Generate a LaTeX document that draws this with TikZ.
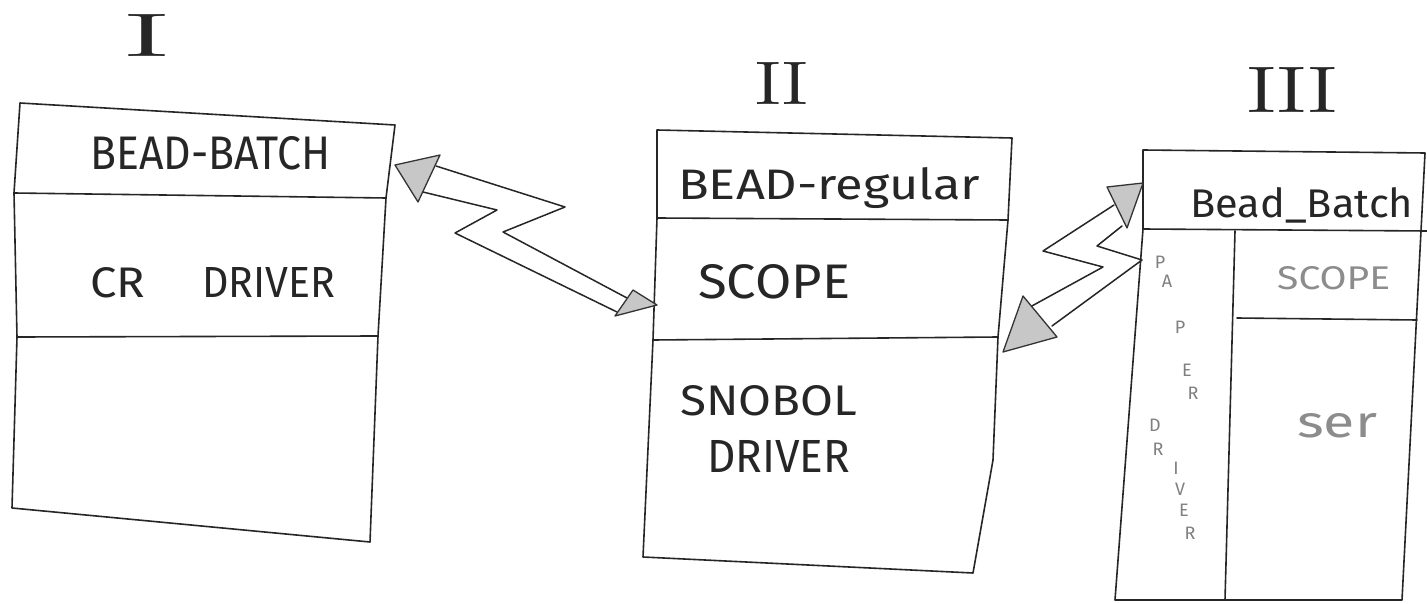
\documentclass[tikz,border=0pt]{standalone}
\usepackage{fontspec}
\usepackage{graphicx}
\newfontfamily\hand{Fira Sans}
\newcommand\handfit[3]{\resizebox{#1pt}{#2pt}{\hand #3}}
\newcommand\romfit[3]{\resizebox{#1pt}{#2pt}{\rmfamily #3}}
\tikzset{
  pen/.style={line width=1.6pt, draw=black!85, line join=round, line cap=round},
  lbl/.style={inner sep=0pt, anchor=base west, text=black!85},
  pale/.style={inner sep=0pt, anchor=base west, text=black!45},
  faint/.style={inner sep=0pt, text=black!50, font=\hand\fontsize{18}{18}\selectfont},
  head/.style={line width=1.3pt, draw=black!80, line join=round, fill=black!22},
  bolt/.style={pen, line width=1.5pt},
}
\begin{document}
\begin{tikzpicture}[x=1pt,y=-1pt]
\useasboundingbox (0,0) rectangle (1427,604);
\fill[white] (0,0) rectangle (1427,604);

% ---------- Box I ----------
\coordinate (a1) at (20,103);  \coordinate (a2) at (395,125);
\coordinate (a3) at (14,193);  \coordinate (a4) at (386,198);
\coordinate (a5) at (17,337);  \coordinate (a6) at (378,336);
\coordinate (a7) at (12,508);  \coordinate (a8) at (370,542);
\draw[pen] (a1) -- (a2) -- (a4) -- (a6) -- (a8) -- (a7) -- (a5) -- (a3) -- cycle;
\draw[pen] (a3) -- (a4);
\draw[pen] (a5) -- (a6);

% ---------- Box II ----------
\coordinate (b1) at (657,130);  \coordinate (b2) at (1012,138);
\coordinate (b3) at (657,218);  \coordinate (b4) at (1008,220);
\coordinate (b5) at (653,340);  \coordinate (b6) at (998,337);
\coordinate (b7) at (643,557);  \coordinate (b8) at (973,573);
\draw[pen] (b1) -- (b2) -- (b4) -- (b6) -- (993,460) -- (b8) -- (b7) -- (b5) -- (b3) -- cycle;
\draw[pen] (b3) -- (b4);
\draw[pen] (b5) -- (b6);

% ---------- Box III ----------
\coordinate (c1) at (1143,150); \coordinate (c2) at (1425,153);
\coordinate (c3) at (1143,229); \coordinate (c4) at (1427,231);
\coordinate (c5) at (1115,600); \coordinate (c6) at (1402,600);
\coordinate (c7) at (1235,231); \coordinate (c8) at (1225,600);
\coordinate (c9) at (1237,318); \coordinate (c10) at (1417,320);
\draw[pen] (c1) -- (c2) -- (1421,231) -- (c6) -- (c5) -- (c3) -- cycle;
\draw[pen] (c3) -- (c4);
\draw[pen] (c7) -- (c8);
\draw[pen] (c9) -- (c10);

% ---------- titles ----------
\node[lbl] (tI)   at (125,57)  {\romfit{43}{42}{I}};
\node[lbl] (tII)  at (755,105) {\romfit{53}{42}{II}};
\node[lbl] (tIII) at (1247,113) {\romfit{90}{45}{III}};

% ---------- labels ----------
\node[lbl] (bb1) at (90,170)   {\handfit{240}{33}{BEAD-BATCH}};
\node[lbl] (cr)  at (90,297)   {\handfit{55}{30}{CR}};
\node[lbl] (drv1) at (202,297) {\handfit{133}{30}{DRIVER}};
\node[lbl] (br)  at (678,200)  {\handfit{302}{32}{BEAD-regular}};
\node[lbl] (sc2) at (698,298)  {\handfit{152}{34}{SCOPE}};
\node[lbl] (sn)  at (680,415)  {\handfit{177}{30}{SNOBOL}};
\node[lbl] (drv2) at (707,472) {\handfit{143}{32}{DRIVER}};
\node[lbl] (bb3) at (1190,218) {\handfit{223}{30}{Bead\_Batch}};
\node[pale] (sc3) at (1277,290) {\handfit{113}{23}{SCOPE}};
\node[pale] (ser) at (1297,437) {\handfit{80}{24}{ser}};

% vertical letters
\node[faint] (v1)  at (1160,262) {P};
\node[faint] (v2)  at (1167,281) {A};
\node[faint] (v3)  at (1180,327) {P};
\node[faint] (v4)  at (1187,370) {E};
\node[faint] (v5)  at (1193,393) {R};
\node[faint] (v6)  at (1155,425) {D};
\node[faint] (v7)  at (1158,449) {R};
\node[faint] (v8)  at (1176,468) {I};
\node[faint] (v9)  at (1180,489) {V};
\node[faint] (v10) at (1184,510) {E};
\node[faint] (v11) at (1190,533) {R};

% ---------- lightning arrow I <-> II ----------
\coordinate (p1) at (395,165); \coordinate (p2) at (440,155); \coordinate (p3) at (418,202);
\coordinate (q1) at (615,316); \coordinate (q2) at (633,290); \coordinate (q3) at (657,305);
\draw[bolt] (436,166) -- (565,207) -- (503,232) -- (627,298);
\draw[bolt] (423,192) -- (497,210) -- (455,233) -- (617,312);
\draw[head] (p1) -- (p2) -- (p3) -- cycle;
\draw[head] (q1) -- (q2) -- (q3) -- cycle;

% ---------- lightning arrow II <-> III ----------
\coordinate (r1) at (1107,187); \coordinate (r2) at (1143,183); \coordinate (r3) at (1127,228);
\coordinate (s1) at (1023,296); \coordinate (s2) at (1057,337); \coordinate (s3) at (1003,352);
\draw[bolt] (1114,205) -- (1043,251) -- (1103,267) -- (1030,307);
\draw[bolt] (1122,226) -- (1097,246) -- (1142,260) -- (1052,326);
\draw[head] (r1) -- (r2) -- (r3) -- cycle;
\draw[head] (s1) -- (s2) -- (s3) -- cycle;
\end{tikzpicture}
\end{document}
